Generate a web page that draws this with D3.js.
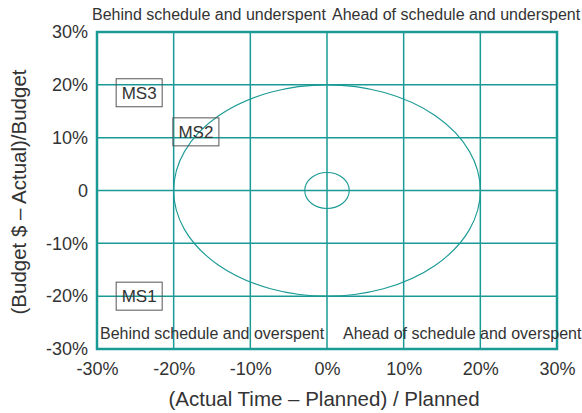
<!DOCTYPE html>
<html><head><meta charset="utf-8">
<script src="https://cdn.jsdelivr.net/npm/d3@7/dist/d3.min.js"></script>
<style>body{margin:0;background:#fff}svg{display:block}text{font-family:"Liberation Sans",Arial,sans-serif;fill:#333}</style>
</head><body>
<script>
const xTicks = [-30,-20,-10,0,10,20,30];
const yTicks = [-30,-20,-10,0,10,20,30];
const xTickLabels = ["-30%","-20%","-10%","0%","10%","20%","30%"];
const yTickLabels = ["-30%","-20%","-10%","0","10%","20%","30%"];
const milestones = ["MS3","MS2","MS1"];
const msX = [-24.5,-17.1,-24.5];
const msY = [18.5,11.1,-20];
const ellipseRx = [20,2.9];
const ellipseRy = [20,3.4];
const quadrantLabels = ["Behind schedule and underspent","Ahead of schedule and underspent","Behind schedule and overspent","Ahead of schedule and overspent"];

const W=582,H=413, L=97,R=557,T=32,B=349;
const teal="#1a9a95";
const FF="Liberation Sans, Arial, sans-serif";
const svg=d3.select("body").append("svg").attr("width",W).attr("height",H);
const x=d3.scaleLinear().domain([-30,30]).range([L,R]);
const y=d3.scaleLinear().domain([-30,30]).range([B,T]);

// grid
svg.append("g").selectAll("line").data(xTicks.slice(1,-1)).join("line")
  .attr("x1",d=>x(d)).attr("x2",d=>x(d)).attr("y1",T).attr("y2",B)
  .attr("stroke",teal).attr("stroke-width",1.5);
svg.append("g").selectAll("line").data(yTicks.slice(1,-1)).join("line")
  .attr("y1",d=>y(d)).attr("y2",d=>y(d)).attr("x1",L).attr("x2",R)
  .attr("stroke",teal).attr("stroke-width",1.5);

// ellipses
svg.append("g").selectAll("ellipse").data(ellipseRx).join("ellipse")
  .attr("cx",x(0)).attr("cy",y(0))
  .attr("rx",(d,i)=>x(d)-x(0)).attr("ry",(d,i)=>y(0)-y(ellipseRy[i]))
  .attr("fill","none").attr("stroke",teal).attr("stroke-width",1.1);

// border
svg.append("rect").attr("x",L).attr("y",T).attr("width",R-L).attr("height",B-T)
  .attr("fill","none").attr("stroke",teal).attr("stroke-width",2.5);

// axes labels
const xa=svg.append("g").attr("transform",`translate(0,${B})`)
  .call(d3.axisBottom(x).tickValues(xTicks).tickFormat((d,i)=>xTickLabels[i]).tickSize(0).tickPadding(13));
xa.select(".domain").remove();
xa.selectAll("text").attr("font-size",18).attr("fill","#333").attr("font-family",FF).attr("dy","0.71em");
const ya=svg.append("g").attr("transform",`translate(${L},0)`)
  .call(d3.axisLeft(y).tickValues(yTicks).tickFormat((d,i)=>yTickLabels[i]).tickSize(0).tickPadding(9));
ya.select(".domain").remove();
ya.selectAll("text").attr("font-size",18).attr("fill","#333").attr("font-family",FF);

// milestones
const ms=svg.append("g").selectAll("g").data(milestones).join("g")
  .attr("transform",(d,i)=>`translate(${x(msX[i])},${y(msY[i])})`);
ms.append("rect").attr("x",-23).attr("y",-14).attr("width",46).attr("height",28)
  .attr("fill","none").attr("stroke","#555").attr("stroke-width",1);
ms.append("text").text(d=>d).attr("text-anchor","middle").attr("dy","0.36em").attr("font-size",17);

// quadrant labels
const qx=[92,332,100,343], qy=[20,20,339,339];
svg.append("g").selectAll("text").data(quadrantLabels).join("text")
  .attr("x",(d,i)=>qx[i]).attr("y",(d,i)=>qy[i]).attr("font-size",16).text(d=>d);

// titles
svg.append("text").attr("x",324).attr("y",406).attr("text-anchor","middle").attr("font-size",20.5)
  .text("(Actual Time – Planned) / Planned");
svg.append("text").attr("transform",`translate(26,192) rotate(-90)`).attr("text-anchor","middle").attr("font-size",20.5)
  .text("(Budget $ – Actual)/Budget");
</script>
</body></html>
